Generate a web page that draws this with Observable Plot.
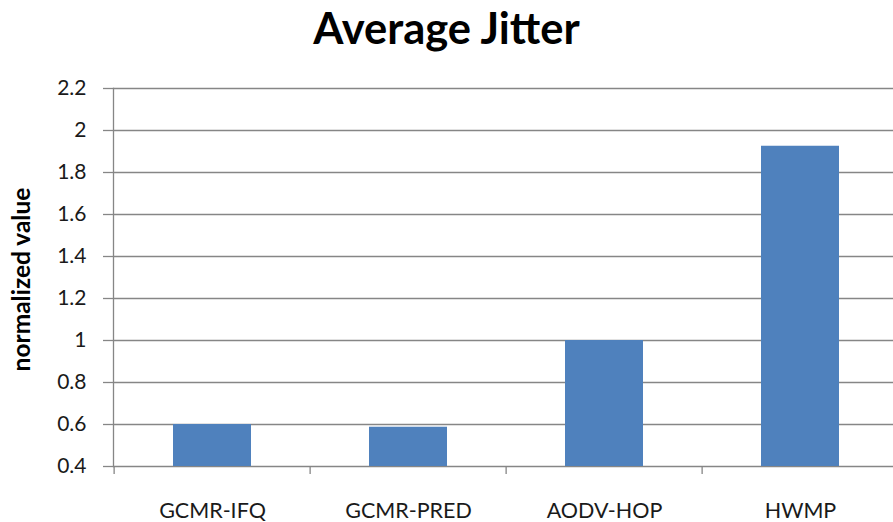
<!DOCTYPE html>
<html>
<head>
<meta charset="utf-8">
<script src="https://cdn.jsdelivr.net/npm/d3@7"></script>
<script src="https://cdn.jsdelivr.net/npm/@observablehq/plot@0.6"></script>
<style>
  html, body { margin: 0; padding: 0; background: #fff; }
  #title { width: 893px; height: 58px; line-height: 54px; text-align: center;
           font-family: Lato, "Open Sans", sans-serif; font-weight: bold; font-size: 43.5px; color: #000; }
  #chart svg { display: block; }
</style>
</head>
<body>
<div id="title">Average Jitter</div>
<div id="chart"></div>
<script>
const categories = ["GCMR-IFQ", "GCMR-PRED", "AODV-HOP", "HWMP"];
const values = [0.60, 0.587, 1.0, 1.925];
const yTicks = [0.4, 0.6, 0.8, 1, 1.2, 1.4, 1.6, 1.8, 2, 2.2];
const yLabel = "normalized value";
const yDomain = [0.4, 2.2];

const data = categories.map((c, i) => ({category: c, value: values[i]}));

const W = 893, H = 464;
const xRange = [113, 900];
const step = (xRange[1] - xRange[0]) / categories.length;
const font = "Lato, 'Open Sans', sans-serif";

const chart = Plot.plot({
  width: W,
  height: H,
  marginTop: 30,
  marginBottom: 56,
  marginLeft: 113,
  marginRight: 0,
  style: {fontFamily: font, fontSize: "18px", color: "#000", background: "#fff", overflow: "visible"},
  x: {domain: categories, range: xRange, paddingInner: 0.6, paddingOuter: 0.3, align: 0.5},
  y: {domain: yDomain, ticks: yTicks},
  marks: [
    Plot.gridY(yTicks, {stroke: "#868686", strokeOpacity: 1, strokeWidth: 1.3}),
    Plot.barY(data, {x: "category", y1: yDomain[0], y2: "value", fill: "#4F81BD"}),
    Plot.ruleX(categories, {x: d => d, dx: -step / 2, y1: yDomain[0], y2: yDomain[0] - 0.038, stroke: "#868686", strokeWidth: 1.3}),
    Plot.frame({anchor: "left", stroke: "#868686", strokeWidth: 1.3}),
    Plot.axisY(yTicks, {tickSize: 10, tickPadding: 17, stroke: "#868686", strokeWidth: 1.3, fontSize: 21, fill: "#1a1a1a", label: null, tickFormat: d => String(d)}),
    Plot.text([yLabel], {frameAnchor: "left", textAnchor: "middle", rotate: -90, dx: -91, dy: 2, fontWeight: "bold", fontSize: 24.5, fill: "#000"}),
    Plot.axisX({tickSize: 0, tickPadding: 36, fontSize: 21.5, fill: "#1a1a1a", label: null})
  ]
});
document.getElementById("chart").appendChild(chart);
</script>
</body>
</html>
